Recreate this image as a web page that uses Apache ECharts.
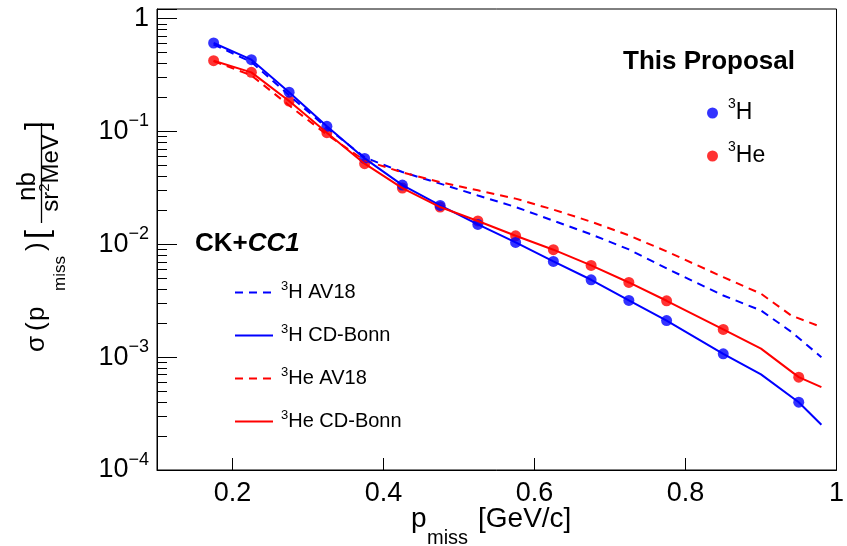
<!DOCTYPE html>
<html>
<head>
<meta charset="utf-8">
<script src="https://cdn.jsdelivr.net/npm/echarts@6/dist/echarts.min.js"></script>
<style>
  html, body { margin: 0; padding: 0; background: #fff; }
  #grafico { width: 847px; height: 546px; }
</style>
</head>
<body>
<div id="grafico"></div>
<script>
// data points (This Proposal)
const pMiss = [0.175, 0.225, 0.275, 0.325, 0.375, 0.425, 0.475, 0.525, 0.575, 0.625, 0.675, 0.725, 0.775, 0.85, 0.95]
const h3Data = [0.608, 0.433, 0.223, 0.111, 0.0577, 0.0335, 0.0221, 0.0150, 0.0104, 0.00705, 0.00485, 0.00318, 0.00211, 0.00107, 0.000399]
const he3Data = [0.424, 0.334, 0.186, 0.0976, 0.0518, 0.0315, 0.0214, 0.0161, 0.0119, 0.00896, 0.00650, 0.00459, 0.00316, 0.00176, 0.000665]

// CK+CC1 calculations
const pCdBonn = [0.175, 0.225, 0.275, 0.325, 0.375, 0.425, 0.475, 0.525, 0.575, 0.625, 0.675, 0.725, 0.775, 0.85, 0.9, 0.95, 0.98]
const h3CdBonn = [0.608, 0.433, 0.223, 0.111, 0.0577, 0.0335, 0.0221, 0.0150, 0.0104, 0.00705, 0.00485, 0.00318, 0.00211, 0.00107, 0.000703, 0.000399, 0.000252]
const he3CdBonn = [0.424, 0.334, 0.186, 0.0976, 0.0518, 0.0315, 0.0214, 0.0161, 0.0119, 0.00896, 0.00650, 0.00459, 0.00316, 0.00176, 0.00119, 0.000665, 0.000542]

const pAv18 = [0.175, 0.225, 0.275, 0.325, 0.375, 0.425, 0.475, 0.525, 0.575, 0.625, 0.675, 0.725, 0.775, 0.85, 0.9, 0.94, 0.98]
const h3Av18 = [0.59, 0.412, 0.209, 0.108, 0.0589, 0.0437, 0.0345, 0.0271, 0.0214, 0.0162, 0.01224, 0.00901, 0.00611, 0.00352, 0.00259, 0.00168, 0.00100]
const he3Av18 = [0.42, 0.314, 0.170, 0.0937, 0.0554, 0.0434, 0.0356, 0.0301, 0.0254, 0.0203, 0.01586, 0.0120, 0.00865, 0.00512, 0.00365, 0.00234, 0.00185]

// axis ticks
const xTicks = [0.2, 0.4, 0.6, 0.8, 1]

const FONT = 'Liberation Sans'
const AZUL = '#0000ff'
const ROJO = '#ff0000'

const zip = (xs, ys) => xs.map((x, i) => [x, ys[i]])

// superscript "3" in front of nuclei names
const supFormatter = name => {
  const resto = name.replace('³', '')
  return '{s|3}{t|' + resto + '}'
}

const chart = echarts.init(document.getElementById('grafico'))

const option = {
  animation: false,
  backgroundColor: '#fff',
  textStyle: { fontFamily: FONT },
  grid: {
    left: 157,
    right: 10,
    top: 9,
    bottom: 76,
    show: true,
    borderColor: '#000',
    borderWidth: 1
  },
  title: [
    {
      text: 'This Proposal',
      left: 623,
      top: 49,
      padding: 0,
      textStyle: { fontFamily: FONT, fontSize: 26, fontWeight: 'bold', color: '#000' }
    },
    {
      text: '{a|CK+}{b|CC1}',
      left: 195,
      top: 231,
      padding: 0,
      textStyle: {
        rich: {
          a: { fontFamily: FONT, fontSize: 26, fontWeight: 'bold', color: '#000' },
          b: { fontFamily: FONT, fontSize: 26, fontWeight: 'bold', fontStyle: 'italic', color: '#000' }
        }
      }
    }
  ],
  legend: [
    {
      data: ['³H', '³He'],
      orient: 'vertical',
      left: 707,
      top: 97,
      itemGap: 11,
      itemWidth: 11,
      itemHeight: 11,
      icon: 'circle',
      selectedMode: false,
      padding: 0,
      formatter: supFormatter,
      textStyle: {
        rich: {
          s: { fontFamily: FONT, fontSize: 14, lineHeight: 14, padding: [0, 0, 18, 5], color: '#000' },
          t: { fontFamily: FONT, fontSize: 23, lineHeight: 24, color: '#000' }
        }
      }
    },
    {
      data: ['³H AV18', '³H CD-Bonn', '³He AV18', '³He CD-Bonn'],
      orient: 'vertical',
      left: 234,
      top: 280,
      itemGap: 18,
      itemWidth: 38,
      itemHeight: 14,
      selectedMode: false,
      padding: 0,
      itemStyle: { opacity: 0 },
      formatter: supFormatter,
      textStyle: {
        rich: {
          s: { fontFamily: FONT, fontSize: 13, lineHeight: 13, padding: [0, 0, 12, 3], color: '#000' },
          t: { fontFamily: FONT, fontSize: 20, lineHeight: 20, color: '#000' }
        }
      }
    }
  ],
  xAxis: {
    type: 'value',
    min: 0.1,
    max: 1.0,
    splitLine: { show: false },
    axisLine: { show: true, lineStyle: { color: '#000', width: 1 } },
    axisTick: { show: true, inside: true, length: 12, customValues: xTicks, lineStyle: { color: '#000', width: 1 } },
    axisLabel: {
      customValues: xTicks,
      margin: 10,
      fontFamily: FONT,
      fontSize: 27,
      color: '#000',
      formatter: v => String(v)
    }
  },
  yAxis: {
    type: 'log',
    min: 0.0001,
    max: 1.217,
    splitLine: { show: false },
    axisLine: { show: true, lineStyle: { color: '#000', width: 1 } },
    axisTick: { show: true, inside: true, length: 20, lineStyle: { color: '#000', width: 1 } },
    minorTick: { show: true, splitNumber: 9, length: 10, lineStyle: { color: '#000', width: 1 } },
    axisLabel: {
      margin: 8,
      color: '#000',
      formatter: v => {
        if (v > 1.01) return ''
        const e = Math.round(Math.log10(v))
        if (e === 0) return '{b|1}'
        return '{b|10}{s|−' + (-e) + '}'
      },
      rich: {
        b: { fontFamily: FONT, fontSize: 27, color: '#000' },
        s: { fontFamily: FONT, fontSize: 18, padding: [0, 0, 20, 0], color: '#000' }
      }
    }
  },
  graphic: [
    // y axis title, rotated
    { type: 'text', x: 37, y: 352, rotation: Math.PI / 2, style: { text: 'σ', fontFamily: FONT, fontSize: 26, fill: '#000', align: 'left', verticalAlign: 'middle' } },
    { type: 'text', x: 37, y: 331, rotation: Math.PI / 2, style: { text: '(', fontFamily: FONT, fontSize: 26, fill: '#000', align: 'left', verticalAlign: 'middle' } },
    { type: 'text', x: 37, y: 321, rotation: Math.PI / 2, style: { text: 'p', fontFamily: FONT, fontSize: 26, fill: '#000', align: 'left', verticalAlign: 'middle' } },
    { type: 'text', x: 60, y: 291, rotation: Math.PI / 2, style: { text: 'miss', fontFamily: FONT, fontSize: 17, fill: '#000', align: 'left', verticalAlign: 'middle' } },
    { type: 'text', x: 37, y: 251, rotation: Math.PI / 2, style: { text: ')', fontFamily: FONT, fontSize: 26, fill: '#000', align: 'left', verticalAlign: 'middle' } },
    { type: 'text', x: 38, y: 239, rotation: Math.PI / 2, style: { text: '[', fontFamily: FONT, fontSize: 32, fill: '#000', align: 'left', verticalAlign: 'middle' } },
    { type: 'line', shape: { x1: 41.5, y1: 123, x2: 41.5, y2: 223 }, style: { stroke: '#000', lineWidth: 1.3 } },
    { type: 'text', x: 28, y: 186.5, rotation: Math.PI / 2, style: { text: 'nb', fontFamily: FONT, fontSize: 26, fill: '#000', align: 'center', verticalAlign: 'middle' } },
    {
      type: 'text', x: 51, y: 173, rotation: Math.PI / 2,
      style: {
        text: '{m|sr}{s|2}{m|MeV}', align: 'center', verticalAlign: 'middle',
        rich: {
          m: { fontFamily: FONT, fontSize: 24, fill: '#000' },
          s: { fontFamily: FONT, fontSize: 15, fill: '#000', padding: [0, 0, 12, 0] }
        }
      }
    },
    { type: 'text', x: 38, y: 130, rotation: Math.PI / 2, style: { text: ']', fontFamily: FONT, fontSize: 32, fill: '#000', align: 'left', verticalAlign: 'middle' } },
    // x axis title
    { type: 'text', x: 411, y: 519, style: { text: 'p', fontFamily: FONT, fontSize: 28, fill: '#000', align: 'left', verticalAlign: 'middle' } },
    { type: 'text', x: 427, y: 538, style: { text: 'miss', fontFamily: FONT, fontSize: 20, fill: '#000', align: 'left', verticalAlign: 'middle' } },
    { type: 'text', x: 478, y: 519, style: { text: '[GeV/c]', fontFamily: FONT, fontSize: 28, fill: '#000', align: 'left', verticalAlign: 'middle' } }
  ],
  series: [
    {
      name: '³H AV18',
      type: 'line',
      data: zip(pAv18, h3Av18),
      symbol: 'none',
      color: AZUL,
      lineStyle: { color: AZUL, width: 2, type: [8, 6] }
    },
    {
      name: '³He AV18',
      type: 'line',
      data: zip(pAv18, he3Av18),
      symbol: 'none',
      color: ROJO,
      lineStyle: { color: ROJO, width: 2, type: [8, 6] }
    },
    {
      name: '³H CD-Bonn',
      type: 'line',
      data: zip(pCdBonn, h3CdBonn),
      symbol: 'none',
      color: AZUL,
      lineStyle: { color: AZUL, width: 2 }
    },
    {
      name: '³He CD-Bonn',
      type: 'line',
      data: zip(pCdBonn, he3CdBonn),
      symbol: 'none',
      color: ROJO,
      lineStyle: { color: ROJO, width: 2 }
    },
    {
      name: '³He',
      type: 'scatter',
      data: zip(pMiss, he3Data),
      symbol: 'circle',
      symbolSize: 11,
      itemStyle: { color: ROJO }
    },
    {
      name: '³H',
      type: 'scatter',
      data: zip(pMiss, h3Data),
      symbol: 'circle',
      symbolSize: 11,
      itemStyle: { color: AZUL }
    }
  ]
}

chart.setOption(option)
</script>
</body>
</html>
